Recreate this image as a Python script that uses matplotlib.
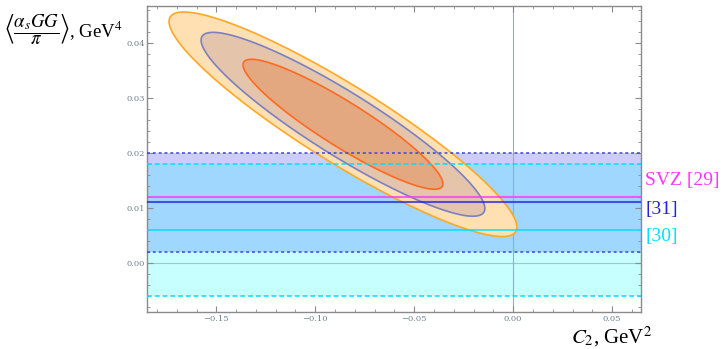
import numpy as np
import matplotlib
matplotlib.use("Agg")
import matplotlib.pyplot as plt
from matplotlib.ticker import MultipleLocator

plt.rcParams['mathtext.fontset'] = 'stix'
plt.rcParams['font.family'] = ['Liberation Serif', 'DejaVu Serif']

# fit result: common centre of the confidence ellipses
c2_centre = -0.086
gg_centre = 0.0252
# half extents (along C2 and along <GG>) of the three contours, outer -> inner
half_c2 = [0.0879, 0.0717, 0.0505]
half_gg = [0.0204, 0.0167, 0.0118]
rho = -0.915
ell_fill = ['#ffe0b2', '#e4c4aa', '#e4a880']
ell_edge = ['#ffa726', '#7b7fc4', '#ff6a20']

# literature values of the gluon condensate
ref_names = ['SVZ [29]', '[31]', '[30]']
ref_value = [0.012, 0.011, 0.006]
ref_low = [None, 0.002, -0.006]
ref_high = [None, 0.020, 0.018]
ref_color = ['#ff33ff', '#2222dd', '#00e0ff']

fig = plt.figure(figsize=(7.21, 3.49), dpi=100)
ax = fig.add_axes([0.204, 0.106, 0.685, 0.877])
ax.set_xlim(-0.185, 0.0646)
ax.set_ylim(-0.0089, 0.0467)

# bands
ax.axhspan(ref_low[1], ref_high[1], color='#0000ff', alpha=0.2, lw=0, zorder=1)
ax.axhspan(ref_low[2], ref_high[2], color='#00ffff', alpha=0.22, lw=0, zorder=1)
ax.axhline(0, color='#a0c8c8', lw=0.8, zorder=1.5)
ax.axvline(0, color='#9aa8c0', lw=0.8, zorder=1.5)

# ellipses
t = np.linspace(0, 2 * np.pi, 400)
for a, b, fc, ec in zip(half_c2, half_gg, ell_fill, ell_edge):
    x = c2_centre + a * np.cos(t)
    y = gg_centre + b * (rho * np.cos(t) + np.sqrt(1 - rho ** 2) * np.sin(t))
    ax.fill(x, y, facecolor=fc, edgecolor=ec, lw=1.2, zorder=2)

# reference lines
for i in range(3):
    ax.axhline(ref_value[i], color=ref_color[i], lw=1.5, alpha=0.75, zorder=3)
ax.axhline(ref_low[1], color='#4040ee', lw=1.4, ls=(0, (1.5, 1.5)), alpha=0.8, zorder=3)
ax.axhline(ref_high[1], color='#4040ee', lw=1.4, ls=(0, (1.5, 1.5)), alpha=0.8, zorder=3)
ax.axhline(ref_low[2], color='#00e0ff', lw=1.4, ls=(0, (2.5, 1.5)), alpha=0.8, zorder=3)
ax.axhline(ref_high[2], color='#00e0ff', lw=1.4, ls=(0, (2.5, 1.5)), alpha=0.8, zorder=3)

label_y = [0.0150, 0.0097, 0.0049]
for name, yy, col in zip(ref_names, label_y, ref_color):
    ax.text(1.009, (yy + 0.0089) / 0.0556, name, color=col, fontsize=14,
            transform=ax.transAxes, va='center', ha='left')

# frame and ticks like Mathematica
for s in ax.spines.values():
    s.set_color('#8a8a8a')
    s.set_linewidth(1.0)
ax.xaxis.set_major_locator(MultipleLocator(0.05))
ax.xaxis.set_minor_locator(MultipleLocator(0.01))
ax.yaxis.set_major_locator(MultipleLocator(0.01))
ax.yaxis.set_minor_locator(MultipleLocator(0.002))
ax.xaxis.set_major_formatter(lambda v, p: ('%.2f' % v).replace('-', '\u2212'))
ax.yaxis.set_major_formatter(lambda v, p: ('%.2f' % v).replace('-', '\u2212'))
ax.tick_params(which='both', direction='in', top=True, right=True, colors='#8a8a8a',
               labelcolor='#6f8090', labelsize=6)
ax.tick_params(which='major', length=4, width=0.8)
ax.tick_params(which='minor', length=2, width=0.6)
ax.tick_params(axis='y', pad=1.5)
ax.tick_params(axis='x', pad=2.5)
for lab in ax.get_xticklabels() + ax.get_yticklabels():
    lab.set_family('DejaVu Serif')

fig.text(0.006, 0.915, r'$\left\langle\dfrac{\alpha_s GG}{\pi}\right\rangle$, GeV$^4$',
         fontsize=13.5, va='center', ha='left')
fig.text(0.792, 0.035, r'$C_2$, GeV$^2$', fontsize=15, va='center', ha='left')

fig.savefig('out.png', dpi=100)
